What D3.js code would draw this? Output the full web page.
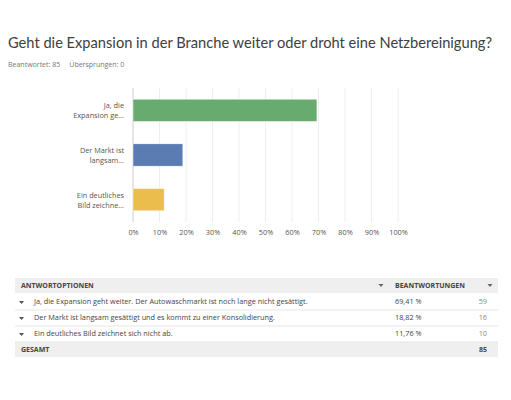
<!DOCTYPE html>
<html><head><meta charset="utf-8">
<script src="https://cdn.jsdelivr.net/npm/d3@7"></script>
<style>body{margin:0;background:#fff;font-family:"Open Sans",sans-serif}</style>
</head><body><svg id="c" width="511" height="400"></svg>
<script>
var labels = [["Ja, die", "Expansion ge..."], ["Der Markt ist", "langsam..."], ["Ein deutliches", "Bild zeichne..."]];
var fullLabels = ["Ja, die Expansion geht weiter. Der Autowaschmarkt ist noch lange nicht gesättigt.",
    "Der Markt ist langsam gesättigt und es kommt zu einer Konsolidierung.",
    "Ein deutliches Bild zeichnet sich nicht ab."];
var percents = [69.41, 18.82, 11.76];
var counts = [59, 16, 10];
var colors = ["#68ab6f", "#5b7cb3", "#ebbd4c"];
var ticks = [0, 10, 20, 30, 40, 50, 60, 70, 80, 90, 100];

var svg = d3.select('#c');

svg.append('text').attr('x', 8).attr('y', 48).attr('font-size', 15).attr('fill', '#404040')
    .attr('font-family', 'Lato, sans-serif')
    .attr('textLength', 484).attr('lengthAdjust', 'spacingAndGlyphs')
    .text('Geht die Expansion in der Branche weiter oder droht eine Netzbereinigung?');
svg.append('text').attr('x', 8).attr('y', 67).attr('font-size', 7).attr('fill', '#777')
    .text('Beantwortet: 85     Übersprungen: 0').attr('xml:space', 'preserve');

var x = d3.scaleLinear().domain([0, 100]).range([133, 398]);
var y = d3.scaleBand().domain(d3.range(3)).range([88, 222]).paddingInner(0.5).paddingOuter(0.25);

// grid lines
svg.selectAll('.grid').data(ticks).enter().append('line')
    .attr('x1', d => x(d)).attr('x2', d => x(d))
    .attr('y1', 88).attr('y2', 222)
    .attr('stroke', d => d === 0 ? '#ccc' : '#eee').attr('stroke-width', 1);

svg.selectAll('.bar').data(percents).enter().append('rect')
    .attr('x', x(0)).attr('y', (d, i) => y(i))
    .attr('width', d => x(d) - x(0)).attr('height', y.bandwidth())
    .attr('fill', (d, i) => colors[i]).attr('stroke', '#fff').attr('stroke-width', 0.5);

var lab = svg.selectAll('.lab').data(labels).enter().append('text')
    .attr('text-anchor', 'end').attr('font-size', 7.3).attr('fill', '#555')
    .attr('x', 124).attr('y', (d, i) => y(i) + y.bandwidth() / 2 - 2);
lab.selectAll('tspan').data(d => d).enter().append('tspan')
    .attr('x', 124).attr('dy', (d, i) => i === 0 ? 0 : 10).text(d => d);

svg.append('g').attr('transform', 'translate(0,227)')
    .call(d3.axisBottom(x).tickValues(ticks).tickSize(0).tickFormat(d => d + '%'))
    .call(g => g.select('.domain').remove())
    .selectAll('text').attr('font-size', 7.3).attr('fill', '#555').attr('font-family', '"Open Sans",sans-serif');

// table
var tx0 = 15, tx1 = 498;
svg.append('rect').attr('x', tx0).attr('y', 278).attr('width', tx1 - tx0).attr('height', 15).attr('fill', '#efefef');
svg.append('rect').attr('x', tx0).attr('y', 342).attr('width', tx1 - tx0).attr('height', 15).attr('fill', '#efefef');
var th = svg.append('g').attr('font-size', 7).attr('font-weight', 'bold').attr('fill', '#444');
th.append('text').attr('x', 21).attr('y', 288).text('ANTWORTOPTIONEN');
th.append('text').attr('x', 395).attr('y', 288).text('BEANTWORTUNGEN');
th.append('text').attr('x', 21).attr('y', 352).text('GESAMT');
th.append('text').attr('x', 487).attr('y', 352).attr('text-anchor', 'end').text(d3.sum(counts));
[381, 490].forEach(function(cx) {
    svg.append('path').attr('d', 'M' + (cx - 2.5) + ',284 L' + (cx + 2.5) + ',284 L' + cx + ',287 Z').attr('fill', '#666');
});

var rows = svg.selectAll('.row').data(fullLabels).enter().append('g')
    .attr('transform', (d, i) => 'translate(0,' + (294 + i * 16) + ')');
rows.append('line').attr('x1', tx0).attr('x2', tx1).attr('y1', 16).attr('y2', 16).attr('stroke', '#e6e6e6');
rows.append('path').attr('d', 'M19,7 L24,7 L21.5,10 Z').attr('fill', '#555');
rows.append('text').attr('x', 34).attr('y', 10).attr('font-size', 7.3).attr('fill', '#444').text(d => d);
rows.append('text').attr('x', 395).attr('y', 10).attr('font-size', 7.3).attr('fill', '#444')
    .text((d, i) => percents[i].toFixed(2).replace('.', ',') + ' %');
rows.append('text').attr('x', 487).attr('y', 10).attr('font-size', 7.3).attr('fill', '#888').attr('text-anchor', 'end')
    .text((d, i) => counts[i]);
</script></body></html>
